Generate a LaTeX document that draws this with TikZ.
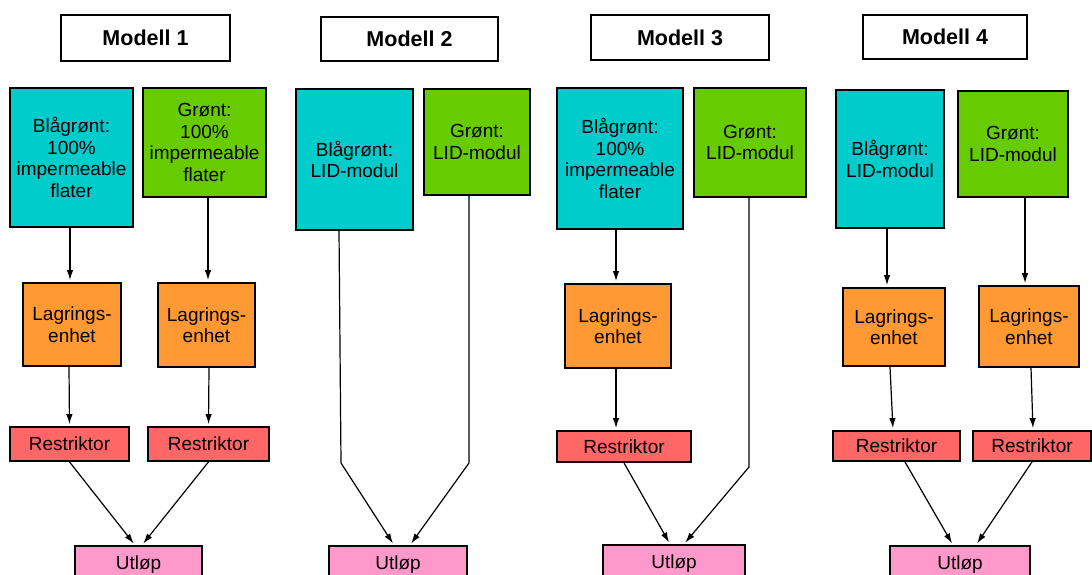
\documentclass[tikz,border=0pt]{standalone}
\usepackage{fontspec}
\setmainfont{Liberation Sans}
\usetikzlibrary{arrows.meta}
\definecolor{bluegreen}{HTML}{00CCCC}
\definecolor{grass}{HTML}{66CC00}
\definecolor{storage}{HTML}{FF9933}
\definecolor{restrict}{HTML}{FF6666}
\definecolor{outlet}{HTML}{FF99CC}

\begin{document}
\begin{tikzpicture}[x=1pt, y=-1pt, shorten >=2pt, line width=1.2pt, >={Latex[length=10pt,width=6.5pt]},
	base node/.style={rectangle, draw, line width=1.8pt, inner sep=0pt, align=center, font=\fontsize{19}{21.5}\selectfont},
	box size/.style 2 args={minimum width=#1, minimum height=#2},
	title node/.style={base node, fill=white, font=\fontsize{21.5}{24}\selectfont\bfseries},
	blue node/.style={base node, fill=bluegreen},
	green node/.style={base node, fill=grass},
	store node/.style={base node, fill=storage},
	restr node/.style={base node, fill=restrict},
	out node/.style={base node, fill=outlet}]
	\useasboundingbox (0,0) rectangle (1092,575);

	% Modell 1
	\node[title node, box size={169}{46}] (t1) at (145.5,38) {Modell 1};
	\node[blue node, box size={123}{139}] (b1) at (71.5,157.5) {Blågrønt:\\100\%\\impermeable\\flater};
	\node[green node, box size={123}{109}] (g1) at (204.5,142.5) {Grønt:\\100\%\\impermeable\\flater};
	\node[store node, box size={98}{83}] (l1a) at (72,324.5) {Lagrings-\\enhet};
	\node[store node, box size={97}{84}] (l1b) at (206.5,325) {Lagrings-\\enhet};
	\node[restr node, box size={119}{34}] (r1a) at (69.5,444) {Restriktor};
	\node[restr node, box size={121}{34}] (r1b) at (208.5,444) {Restriktor};
	\node[out node, box size={127}{37}] (u1) at (138.5,564.5) {Utløp};

	% Modell 2
	\node[title node, box size={177}{44}] (t2) at (409.5,39) {Modell 2};
	\node[blue node, box size={117}{141}] (b2) at (354.5,159.5) {Blågrønt:\\LID-modul};
	\node[green node, box size={106}{106}] (g2) at (477,142) {Grønt:\\LID-modul};
	\node[out node, box size={138}{37}] (u2) at (398,564.5) {Utløp};
	\coordinate (k2a) at (341,463);
	\coordinate (k2b) at (469,463);

	% Modell 3
	\node[title node, box size={178}{45}] (t3) at (680,37.5) {Modell 3};
	\node[blue node, box size={126}{141}] (b3) at (620,158.5) {Blågrønt:\\100\%\\impermeable\\flater};
	\node[green node, box size={112}{109}] (g3) at (750,142.5) {Grønt:\\LID-modul};
	\node[store node, box size={106}{84}] (l3) at (618,326) {Lagrings-\\enhet};
	\node[restr node, box size={134}{31}] (r3) at (624,446.5) {Restriktor};
	\node[out node, box size={142}{38}] (u3) at (674,564) {Utløp};
	\coordinate (k3) at (749,467);

	% Modell 4
	\node[title node, box size={164}{44}] (t4) at (945,37) {Modell 4};
	\node[blue node, box size={108}{138}] (b4) at (890,159) {Blågrønt:\\LID-modul};
	\node[green node, box size={110}{106}] (g4) at (1013,144) {Grønt:\\LID-modul};
	\node[store node, box size={102}{78}] (l4a) at (894,327) {Lagrings-\\enhet};
	\node[store node, box size={100}{81}] (l4b) at (1029,326.5) {Lagrings-\\enhet};
	\node[restr node, box size={127}{30}] (r4a) at (896.5,446) {Restriktor};
	\node[restr node, box size={118}{30}] (r4b) at (1032,446) {Restriktor};
	\node[out node, box size={140}{37}] (u4) at (960,564.5) {Utløp};

	\path[->]
		([xshift=-1.5pt]b1.south) edge ([xshift=-2pt]l1a.north)
		([xshift=3.5pt]g1.south) edge ([xshift=1.5pt]l1b.north)
		([xshift=-3pt]l1a.south) edge (r1a.north)
		([xshift=2.5pt]l1b.south) edge (r1b.north)
		(r1a.south) edge ([xshift=-3.5pt]u1.north)
		(r1b.south) edge ([xshift=3.5pt]u1.north);
	\draw[->] ([xshift=-15.5pt]b2.south) -- (k2a) -- ([xshift=-4pt]u2.north);
	\draw[->] ([xshift=-8pt]g2.south) -- (k2b) -- ([xshift=12pt]u2.north);
	\path[->]
		([xshift=-4pt]b3.south) edge ([xshift=-2pt]l3.north)
		([xshift=-2pt]l3.south) edge ([xshift=-8pt]r3.north)
		(r3.south) edge ([xshift=-4pt]u3.north);
	\draw[->] ([xshift=-1pt]g3.south) -- (k3) -- ([xshift=10pt]u3.north);
	\path[->]
		([xshift=-3pt]b4.south) edge ([xshift=-7pt]l4a.north)
		([xshift=12pt]g4.south) edge ([xshift=-4pt]l4b.north)
		([xshift=-4pt]l4a.south) edge ([xshift=-3.5pt]r4a.north)
		([xshift=2pt]l4b.south) edge ([xshift=1pt]r4b.north)
		([xshift=8.5pt]r4a.south) edge ([xshift=-7pt]u4.north)
		(r4b.south) edge ([xshift=16pt]u4.north);
\end{tikzpicture}
\end{document}
